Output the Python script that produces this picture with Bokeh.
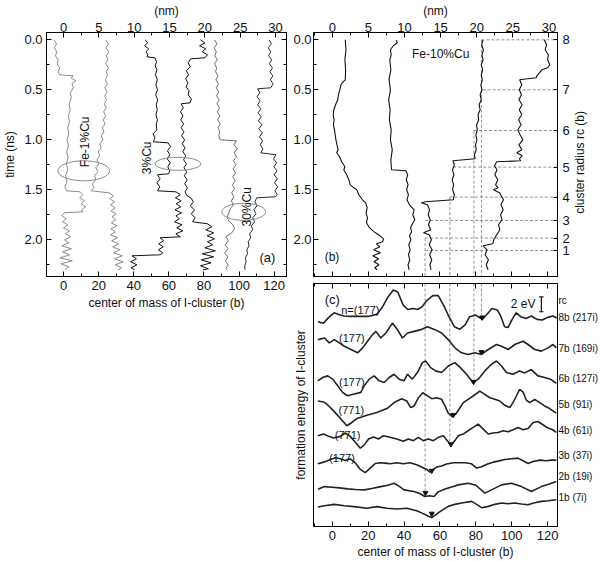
import math
from bokeh.plotting import figure
from bokeh.layouts import row, column
from bokeh.models import (Range1d, LinearAxis, SingleIntervalTicker, FixedTicker,
                          PrintfTickFormatter)
from bokeh.core.properties import value
from bokeh.embed import file_html
from bokeh.resources import INLINE

FONT = "Liberation Sans"
NM_PER_B = 0.2485  # nm per Burgers vector (top axis conversion)

# ---------------- panel (a): trajectories (time ns, position b) ----------------
t_a1 = [0.00,0.04,0.08,0.12,0.16,0.20,0.24,0.28,0.32,0.35,0.36,0.38,0.41,0.44,0.48,0.53,0.58,0.64,0.70,0.76,
        0.82,0.88,0.94,1.00,1.06,1.12,1.18,1.24,1.30,1.36,1.42,1.47,1.51,1.52,1.55,1.58,1.61,1.64,1.67,1.70,
        1.72,1.73,1.76,1.79,1.82,1.85,1.88,1.91,1.94,1.97,2.00,2.03,2.06,2.09,2.12,2.15,2.18,2.21,2.24,2.27,2.30]
b_a1 = [-5.5,-4.0,-5.2,-3.8,-4.6,-3.0,-3.6,-2.2,-3.0,-2.4,5.5,4.2,7.0,4.8,5.6,3.8,4.4,3.2,3.8,2.8,
        3.4,2.4,3.0,2.0,2.8,1.8,2.6,1.6,2.4,1.2,2.0,0.8,1.6,9.5,11.0,9.2,12.0,10.0,12.5,10.2,
        11.0,0.5,-1.0,1.5,-0.5,2.5,0.0,3.5,1.0,4.0,0.5,3.0,-1.0,4.5,-0.5,3.5,-2.0,5.0,-1.5,3.0,1.0]

t_a2 = [0.00,0.04,0.08,0.12,0.16,0.20,0.24,0.28,0.32,0.36,0.40,0.44,0.48,0.52,0.56,0.60,0.64,0.68,0.72,0.76,
        0.80,0.84,0.88,0.92,0.96,1.00,1.04,1.08,1.12,1.16,1.20,1.24,1.28,1.32,1.36,1.40,1.44,1.48,1.51,
        1.53,1.56,1.59,1.62,1.65,1.68,1.71,1.74,1.77,1.80,1.83,1.86,1.89,1.92,1.95,1.98,2.01,2.04,2.07,2.10,
        2.13,2.16,2.19,2.22,2.25,2.28,2.30]
b_a2 = [24.0,25.5,24.2,25.8,24.4,25.2,24.0,25.6,24.3,25.0,23.8,25.0,23.5,24.8,23.4,24.5,23.2,24.3,22.8,24.0,
        22.6,23.6,22.2,23.0,21.5,22.4,20.6,21.4,19.8,20.6,19.0,20.2,18.4,19.6,17.6,18.6,16.4,17.4,15.6,
        26.0,28.5,26.4,29.0,26.8,29.5,27.0,30.0,27.6,29.8,27.2,30.4,27.0,29.6,26.8,30.8,27.4,31.5,28.0,32.0,
        28.4,33.5,29.0,34.0,29.5,33.0,31.0]

t_a3 = [0.00,0.03,0.06,0.09,0.12,0.15,0.17,0.18,0.22,0.26,0.30,0.35,0.40,0.45,0.50,0.55,0.60,0.65,0.70,0.75,
        0.80,0.85,0.90,0.94,0.98,1.02,1.03,1.07,1.11,1.15,1.19,1.23,1.27,1.31,1.34,1.35,1.39,1.43,1.47,1.51,
        1.52,1.55,1.58,1.61,1.64,1.67,1.70,1.73,1.76,1.79,1.82,1.85,1.88,1.91,1.94,1.97,1.98,2.01,2.04,2.07,
        2.10,2.13,2.15,2.16,2.19,2.22,2.25,2.28,2.30]
b_a3 = [46.5,47.8,46.2,48.5,47.0,48.0,47.5,52.0,53.0,52.2,53.2,52.4,53.4,52.6,53.5,52.5,53.6,52.8,53.4,52.6,
        53.5,52.8,53.2,51.0,52.0,51.2,59.5,61.0,59.2,60.6,59.0,60.8,59.4,60.5,59.8,53.5,55.0,53.2,54.8,53.6,
        64.0,66.5,63.8,67.0,64.2,66.8,63.5,67.2,64.0,66.0,63.2,67.5,64.5,68.0,64.0,66.5,55.0,57.0,54.2,56.8,
        54.0,56.5,55.0,39.0,41.5,38.2,41.8,38.5,40.5]

t_a4 = [0.00,0.03,0.06,0.09,0.12,0.15,0.18,0.19,0.23,0.27,0.31,0.35,0.39,0.43,0.47,0.51,0.55,0.59,
        0.63,0.64,0.68,0.72,0.76,0.80,0.84,0.88,0.92,0.96,1.00,1.04,1.08,1.12,1.16,1.20,1.24,1.28,1.32,1.36,
        1.40,1.44,1.48,1.52,1.56,1.58,1.62,1.66,1.70,1.74,1.78,1.82,1.84,1.87,1.90,1.93,1.96,1.99,2.02,2.05,
        2.08,2.11,2.14,2.17,2.20,2.23,2.26,2.29,2.30]
b_a4 = [78.0,80.5,77.5,81.0,79.0,82.0,80.5,72.5,71.0,72.2,70.0,71.2,69.6,70.8,69.8,71.5,71.0,72.8,
        72.0,67.0,68.2,66.6,68.0,66.8,68.4,67.0,68.6,67.2,69.0,67.6,69.2,68.0,69.6,68.4,70.0,68.6,70.2,68.8,
        70.4,69.0,70.6,69.2,70.4,72.5,74.0,72.2,74.6,72.8,75.0,73.5,82.0,84.5,81.0,85.5,81.8,86.0,82.0,85.0,
        80.5,86.5,79.0,85.5,78.5,84.0,78.0,82.5,79.5]

t_a5 = [0.00,0.04,0.08,0.12,0.16,0.20,0.24,0.28,0.32,0.36,0.40,0.44,0.48,0.52,0.56,0.60,0.64,0.68,0.72,0.76,
        0.80,0.84,0.88,0.92,0.96,1.00,1.01,1.05,1.09,1.13,1.17,1.21,1.25,1.29,1.33,1.37,1.41,1.45,1.49,1.53,
        1.57,1.61,1.65,1.69,1.73,1.77,1.81,1.85,1.89,1.93,1.97,2.01,2.05,2.09,2.13,2.17,2.21,2.25,2.29,2.30]
b_a5 = [86.0,87.4,85.8,87.0,86.2,87.6,86.0,87.2,86.6,88.0,86.8,88.2,87.0,88.4,87.2,88.6,87.4,88.8,87.6,89.0,
        87.8,89.2,88.0,89.0,88.4,89.2,98.5,97.0,99.0,97.2,98.6,96.8,98.2,96.6,98.0,96.4,97.8,96.2,97.4,95.8,
        97.0,95.6,96.8,95.0,94.2,93.2,94.0,96.5,97.5,95.8,92.4,94.0,92.0,93.8,91.8,93.6,92.2,93.8,92.4,93.0]

t_a6 = [0.00,0.04,0.08,0.12,0.16,0.20,0.24,0.28,0.32,0.36,0.40,0.44,0.48,0.49,0.53,0.57,0.61,0.65,0.69,0.73,
        0.77,0.81,0.85,0.89,0.93,0.97,1.01,1.05,1.09,1.13,1.15,1.19,1.23,1.27,1.31,1.35,1.39,1.43,1.47,1.51,
        1.55,1.57,1.58,1.62,1.66,1.70,1.74,1.78,1.82,1.86,1.90,1.94,1.98,2.02,2.06,2.10,2.14,2.18,2.22,2.26,2.30]
b_a6 = [117.0,118.4,116.6,118.0,116.8,118.6,117.2,119.0,117.6,119.2,117.8,119.4,118.0,110.5,111.8,110.2,112.0,110.6,112.4,110.8,
        112.6,111.0,113.0,111.2,113.2,111.6,113.4,112.0,113.6,112.4,121.0,119.6,121.4,119.8,121.6,120.0,121.8,120.2,122.0,120.4,
        121.8,120.6,110.0,109.0,110.2,108.4,109.6,107.8,108.8,107.0,107.8,106.0,106.6,105.2,105.6,104.4,104.8,103.6,104.0,103.2,103.4]

traces_a = [(b_a1, t_a1, "#8c8c8c"), (b_a2, t_a2, "#8c8c8c"), (b_a3, t_a3, "#111111"),
            (b_a4, t_a4, "#111111"), (b_a5, t_a5, "#6e6e6e"), (b_a6, t_a6, "#2a2a2a")]

ell_b = [11.5, 65.2, 102.6]
ell_t = [1.31, 1.24, 1.72]
ell_w = [29.5, 26.0, 25.0]
ell_h = [0.20, 0.13, 0.17]

alloy_text = ["Fe-1%Cu", "3%Cu", "30%Cu"]
alloy_b = [12.4, 47.6, 104.6]
alloy_t = [1.02, 1.18, 1.67]

# ---------------- panel (b): Fe-10%Cu trajectories ----------------
t_b1 = [0.00,0.10,0.20,0.30,0.40,0.42,0.45,0.50,0.55,0.60,0.65,0.70,0.75,0.80,0.85,0.90,0.95,1.00,1.05,1.10,
        1.13,1.17,1.22,1.27,1.30,1.35,1.40,1.45,1.48,1.50,1.55,1.60,1.63,1.68,1.73,1.78,1.83,1.87,1.90,1.93,
        1.96,1.99,2.02,2.04,2.07,2.10,2.13,2.16,2.19,2.22,2.25,2.28,2.30]
b_b1 = [7.2,7.6,7.0,7.4,7.2,6.0,4.8,4.2,3.4,3.0,1.8,0.8,0.5,1.0,0.6,1.2,1.6,2.0,2.6,3.2,
        2.4,4.0,5.2,7.0,6.4,8.0,9.2,10.0,12.0,13.6,14.8,16.8,18.6,19.4,18.8,19.6,19.0,20.4,22.0,24.0,
        26.6,28.6,28.0,24.6,26.5,23.0,26.8,22.5,25.8,23.2,26.0,23.6,25.0]

t_b2 = [0.00,0.03,0.06,0.10,0.15,0.20,0.30,0.40,0.50,0.60,0.70,0.80,0.90,1.00,1.10,1.20,1.30,1.31,1.35,1.40,
        1.45,1.50,1.55,1.60,1.65,1.70,1.75,1.80,1.84,1.88,1.92,1.96,2.00,2.05,2.10,2.15,2.20,2.25,2.30]
b_b2 = [35.8,36.2,34.0,32.4,32.8,32.0,32.6,31.6,32.4,31.4,32.2,31.8,32.8,32.4,33.4,32.6,33.0,41.0,42.0,41.2,
        42.2,41.4,42.4,41.6,43.0,45.6,44.8,46.0,44.6,43.6,44.2,43.0,43.8,42.6,43.4,42.4,43.2,42.2,42.8]

t_b3 = [0.00,0.05,0.10,0.15,0.20,0.25,0.30,0.35,0.40,0.45,0.50,0.55,0.60,0.65,0.70,0.75,0.80,0.85,0.90,0.95,
        1.00,1.05,1.10,1.15,1.19,1.21,1.25,1.30,1.35,1.40,1.45,1.50,1.55,1.60,1.62,1.63,1.65,1.70,1.75,1.80,
        1.85,1.90,1.93,1.95,2.00,2.05,2.10,2.15,2.20,2.25,2.30]
b_b3 = [84.0,83.2,84.2,83.4,84.0,83.0,83.8,83.0,83.6,82.8,83.4,82.4,83.0,81.8,82.4,81.2,81.6,80.4,80.8,80.0,
        80.6,79.8,80.2,79.2,79.6,67.2,68.0,67.0,67.8,66.8,67.6,67.0,68.0,67.4,52.0,49.6,53.0,54.2,53.4,54.6,
        53.6,54.8,50.8,54.0,55.2,54.0,55.6,54.2,55.4,54.4,55.0]

t_b4 = [0.00,0.05,0.10,0.15,0.20,0.25,0.28,0.30,0.33,0.36,0.38,0.40,0.45,0.50,0.55,0.60,0.65,0.70,0.75,0.80,
        0.85,0.90,0.95,1.00,1.05,1.10,1.13,1.16,1.19,1.21,1.22,1.26,1.30,1.35,1.40,1.45,1.48,1.50,1.53,1.57,
        1.60,1.65,1.70,1.75,1.80,1.85,1.90,1.95,2.00,2.04,2.06,2.10,2.15,2.20,2.25,2.30]
b_b4 = [118.2,119.4,118.6,120.4,120.0,121.2,120.0,116.8,115.4,114.0,113.6,104.4,105.6,104.2,105.4,104.0,105.8,104.2,105.6,103.8,
        105.2,103.4,104.6,106.2,104.0,105.6,102.8,105.8,104.2,105.0,91.6,90.4,91.8,90.6,92.2,91.0,92.4,89.8,93.2,94.4,
        95.4,94.0,95.2,93.8,94.6,92.6,93.4,91.6,90.0,89.4,84.0,86.2,85.2,87.0,85.8,86.8]

traces_b = [(b_b1, t_b1), (b_b2, t_b2), (b_b3, t_b3), (b_b4, t_b4)]

rc_levels = [8, 7, 6, 5, 4, 3, 2, 1]
rc_times = [0.0, 0.5, 0.907, 1.273, 1.573, 1.807, 1.983, 2.107]
rc_line_start = [83.1, 83.7, 78.9, 67.4, 65.5, 51.7, 51.7, 51.7]
rc_title = "cluster radius rc (b)"
rc_title_t = 1.74   # time at which the (bottom-to-top) title starts

guide_b = [83.1, 78.9, 65.5, 51.7]
guide_t0 = [0.0, 0.907, 1.573, 1.983]
guide_e_end = [28.4, 19.8, 11.4, 4.85]

# ---------------- panel (c): formation energy profiles (eV) ----------------
b8 = [-8,-5,-2,1,4,6.5,10,15,20,25,28,31,34,36.5,39.5,42,45,47.5,50,52.5,56,59,62,65,68,71,74,76.5,80,83.5,
      86,89,92,94,96,98,100,102.5,105,108,111,114,117,120,123,125]
e8 = [0,-0.22,0.58,1.2,0.93,0.76,0.71,0.71,0.71,1.02,2.0,3.33,4.27,4.0,2.22,1.64,1.78,1.64,2.0,2.8,
      3.51,3.51,2.22,0.67,-0.67,-1.02,-0.44,0.67,0.89,0.31,0.93,1.78,1.56,0.67,-0.67,-0.76,0.22,1.2,0.67,0.44,
      0.76,0.31,0.22,0.58,0.76,0.49]
b7 = [-8.1,-4.4,-1.7,1.1,3.9,6.7,10.4,14.1,16.9,19.6,22.4,24.3,27,29.8,33.5,36.3,39.1,41.9,45.6,49.3,
      53,57.2,60.9,64.6,68.3,72,75.7,79.4,83.1,86.9,91.5,94.3,98,101.7,106.3,109.1,112.8,116.5,120.2,123,124.8]
e7 = [-0.18,0.04,-0.62,-0.18,-0.62,-1.07,-1.51,-1.96,-1.29,-0.4,0.49,0.93,0.04,0.71,2.04,1.16,0.04,0.71,0.93,1.16,
      1.56,1.16,0.71,-0.18,-1.29,-1.96,-2.18,-1.96,-2.18,-1.51,-0.84,-1.07,-1.51,-0.84,-0.4,-0.84,-1.51,-1.73,-1.29,-0.84,-1.29]
b6 = [-8.1,-5.4,-2.6,0.2,3,5.7,8.5,12.2,15.9,17.8,20.6,23.3,26.1,28.9,31.7,34.4,37.2,40,41.9,44.6,
      47.4,50.2,52,54.8,57.6,60.9,64.6,68.3,71.5,74.8,78.5,81.3,85,88.7,91.5,94.3,97,100.7,104.4,107.2,
      110.9,114.6,118.3,122,124.8]
e6 = [0.04,0.49,0.71,0.27,-0.62,-1.51,-1.96,-1.73,-1.51,-0.62,0.27,0.71,0.04,-0.18,0.49,0.93,0.27,0.04,0.93,0.27,
      1.16,2.49,2.71,1.82,1.38,1.16,2.04,2.49,1.78,0.93,-0.22,0.27,1.38,2.27,2.71,2.04,1.16,0.93,1.38,1.11,
      1.56,0.71,0.49,0.22,-0.31]
b5 = [-8.1,-4.8,-2,0.7,4.4,8.1,10.9,13.7,19.3,24.8,30.4,35,38.7,41.5,43.7,45.6,48,50.4,52.6,55.4,
      58.1,60.9,62.8,64.6,66.9,68.7,70.6,73,75.7,78.5,82.2,85,87.8,90.6,93.3,96.1,98.9,100.7,102.6,104.4,
      106.3,108.1,110,112.8,115.6,118.3,121.1,124.8]
e5 = [0,-0.13,-0.67,-1.33,-2.31,-3.33,-2.89,-2.36,-1.91,-1.56,-1.02,-0.13,0.31,0,-0.89,-0.67,0.44,1.11,0.76,0.31,
      0.44,0.22,-0.67,-1.64,-2.09,-1.78,-1.11,-0.22,0.22,0.67,1.33,0.89,0.44,0.22,0,-0.58,-0.89,-0.22,0.67,1.56,
      1.2,0.13,-0.22,0.22,-0.22,-0.67,-1.02,-1.64]
b4 = [-8.1,-4.8,-2,0.7,4.4,7.2,10,12.8,15.6,17.8,20.2,23,25.7,28.5,32.2,35.9,39.6,42.4,45.2,47.9,
      50.7,53.5,56.3,59.1,61.9,64.1,66.1,68.3,70.2,72.9,75.7,78.5,81.3,84.1,86.9,89.6,92.4,95.2,98,100.7,
      103.5,106.3,109.1,111.9,114.6,117.4,120.2,122.9,124.8]
e4 = [0,0.22,-0.09,-0.31,-0.09,0.36,-0.09,-0.89,-1.69,-1.24,-0.44,-0.18,-0.44,0,-0.22,-0.44,-0.76,-0.44,-0.67,-0.22,
      -0.67,-0.44,-0.67,-0.22,0,-0.67,-1.24,-0.67,0,0.22,0.67,1.11,1.56,0.89,0.22,0.36,0.44,0.67,0.53,0.8,
      1.11,0.8,0.98,1.78,1.91,1.47,1.02,0.8,0.44]
b3 = [-8.1,-4.8,-1.1,1.7,4.4,7.2,10,12.8,15.6,18.3,21.1,23.9,26.7,29.4,32.2,35.9,39.6,43.3,47,49.8,
      52.6,54.4,56.3,58.1,60.9,63.7,67.4,71.1,73.9,77.6,80.4,83.1,86.9,89.6,92.4,96.1,99.8,103.5,106.3,109.1,
      111.9,115.6,119.3,122,124.8]
e3 = [0,0.22,0.58,0.8,0.67,0.44,0.67,0.13,-0.76,-1.2,-0.58,0.04,0.13,0.09,0,0.13,0,0.13,-0.13,-0.44,
      -0.76,-1.11,-0.76,-0.44,-0.31,-0.04,0.13,0.13,0.13,0,-0.58,-0.4,0,0.22,0.36,0.58,0.67,0.76,0.4,0.04,
      0.31,0.49,0.4,0.49,0.49]
b2 = [-8,-4.4,0,4,8.5,13,17.8,22,27,31,34.5,37.5,40,45.5,49,51.5,54,56.7,59,62.8,
      66.5,70.2,75.7,80,85,88.7,94.3,99.8,105.4,111,116.5,121,124.8]
e2 = [0.09,0.44,0.36,0.27,0.13,0.04,0,0.18,0.44,0.62,0.89,0.44,0,-0.22,-0.53,-0.89,-0.8,-0.89,-0.27,0.13,
      0.4,0.67,0.89,0.62,-0.44,0,0.67,0.89,0.44,-0.22,0.44,0.8,1.11]
b1 = [-8,-4.4,1,6.7,12,19.3,24.8,30.4,36,41.5,47,50.7,53.5,55.4,57.5,60,64.6,68.3,72,77.6,
      80.4,83.2,87,90.6,94.3,98,101.7,105.4,109,112.8,116.5,120.2,124.8]
e1 = [0.13,0.31,0.49,0.31,0.18,-0.04,0.18,-0.04,-0.13,-0.04,-0.36,-0.76,-1.11,-1.29,-0.93,-0.49,0.22,0.49,0.67,0.89,
      0.49,0.04,0.22,0.49,0.67,0.58,0.67,0.53,0.44,0.71,0.89,0.98,1.11]

profiles = [(b8, e8), (b7, e7), (b6, e6), (b5, e5), (b4, e4), (b3, e3), (b2, e2), (b1, e1)]
offsets = [27.56, 25.33, 19.56, 16.89, 12.22, 8.44, 4.93, 2.49]
curve_labels = ["8b (217i)", "7b (169i)", "6b (127i)", "5b (91i)", "4b (61i)", "3b (37i)", "2b (19i)", "1b (7i)"]
curve_label_y = [28.1, 24.0, 19.9, 16.4, 12.9, 9.6, 6.7, 3.9]
rc_header = "rc"
rc_header_y = 30.4

marker_b = [83.5, 83.1, 78.7, 67.4, 66.1, 55.4, 51.9, 55.4]
marker_e = [28.13, 23.47, 19.47, 15.02, 11.07, 7.51, 4.53, 1.73]

dir_text = ["n=(177)", "(177)", "(177)", "(771)", "(771)", "(177)"]
dir_b = [15.6, 10.9, 10.9, 10.6, 8.5, 5.4]
dir_e = [29.1, 25.3, 19.4, 15.7, 12.3, 9.2]

scale_bar_b = 116.5
scale_bar_e0 = 28.9
scale_bar_len = 2.0   # eV

# ---------------- ranges ----------------
XA = (-9.7, 127.0)
XB = (-10.5, 125.5)
T_RANGE = (-0.073, 2.367)
E_RANGE = (0.0, 32.7)


def style_axis(ax, labels=True, size="13px", standoff=3, label_standoff=3):
    ax.axis_line_color = "black"
    ax.major_tick_line_color = "black"
    ax.minor_tick_line_color = "black"
    ax.major_tick_in = 5
    ax.major_tick_out = 0
    ax.minor_tick_in = 3
    ax.minor_tick_out = 0
    ax.major_label_text_font = FONT
    ax.major_label_text_color = "#111111"
    ax.axis_label_text_font = FONT
    ax.axis_label_text_font_style = "normal"
    ax.axis_label_text_font_size = "12px"
    ax.axis_label_text_color = "#111111"
    ax.axis_label_standoff = label_standoff
    if labels:
        ax.major_label_text_font_size = size
        ax.major_label_standoff = standoff
    else:
        # tick marks only: labels are not painted at all
        ax.major_label_text_color = None
        ax.major_label_text_font_size = "1px"
        ax.major_label_standoff = 0
    return ax


def base_fig(w, h, xr, yr, left, right, top, bottom):
    p = figure(width=w, height=h, x_range=xr, y_range=yr,
               x_axis_location=None, y_axis_location=None,
               output_backend="svg", toolbar_location=None,
               min_border_left=left, min_border_right=right,
               min_border_top=top, min_border_bottom=bottom)
    p.grid.visible = False
    p.outline_line_color = "black"
    p.outline_line_width = 1
    p.background_fill_color = "white"
    p.border_fill_color = "white"
    return p


def b_ticker():
    return SingleIntervalTicker(interval=20, num_minor_ticks=2)


def t_ticker():
    return SingleIntervalTicker(interval=0.5, num_minor_ticks=2)


def nm_ticker():
    return SingleIntervalTicker(interval=5, num_minor_ticks=2)


# ================= panel (a) =================
pa = base_fig(290, 561, Range1d(*XA), Range1d(T_RANGE[1], T_RANGE[0]), 42, 4, 32, 285)
pa.extra_x_ranges = {"nm": Range1d(XA[0] * NM_PER_B, XA[1] * NM_PER_B)}
pa.add_layout(style_axis(LinearAxis(ticker=b_ticker(), axis_label="center of mass of I-cluster (b)"),
                         standoff=4, label_standoff=3), "below")
pa.add_layout(style_axis(LinearAxis(x_range_name="nm", ticker=nm_ticker(), axis_label="(nm)"),
                         standoff=1, label_standoff=2), "above")
pa.add_layout(style_axis(LinearAxis(ticker=t_ticker(), formatter=PrintfTickFormatter(format="%.1f"),
                                    axis_label="time (ns)"), standoff=4, label_standoff=4), "left")
pa.add_layout(style_axis(LinearAxis(ticker=t_ticker()), labels=False), "right")

for bx, tt, col in traces_a:
    pa.line(bx, tt, line_color=col, line_width=1.0)
pa.ellipse(x=ell_b, y=ell_t, width=ell_w, height=ell_h, fill_color=None,
           line_color="#8c8c8c", line_width=1)
pa.text(x=alloy_b, y=alloy_t, text=alloy_text, angle=math.pi / 2,
        text_font=value(FONT), text_font_size="12px", text_color="#111111",
        text_align="center", text_baseline="middle")
pa.text(x=[116.1], y=[2.18], text=["(a)"], text_font=value(FONT), text_font_size="13px",
        text_color="#111111", text_align="center", text_baseline="middle")

# ================= panel (b) =================
pb = base_fig(310, 280, Range1d(*XB), Range1d(T_RANGE[1], T_RANGE[0]), 23, 40, 32, 4)
pb.extra_x_ranges = {"nm": Range1d(XB[0] * NM_PER_B, XB[1] * NM_PER_B)}
pb.add_layout(style_axis(LinearAxis(x_range_name="nm", ticker=nm_ticker(), axis_label="(nm)"),
                         standoff=1, label_standoff=2), "above")
pb.add_layout(style_axis(LinearAxis(ticker=b_ticker()), labels=False), "below")
pb.add_layout(style_axis(LinearAxis(ticker=t_ticker(), formatter=PrintfTickFormatter(format="%.1f")),
                         standoff=2), "left")
rax = LinearAxis(ticker=FixedTicker(ticks=rc_times),
                 major_label_overrides={t: str(n) for t, n in zip(rc_times, rc_levels)})
style_axis(rax, standoff=5)
rax.major_tick_in = 4
pb.add_layout(rax, "right")
# title of the r_c axis: a tick-less axis whose single label reads bottom-to-top
tax = LinearAxis(ticker=FixedTicker(ticks=[rc_title_t]),
                 major_label_overrides={rc_title_t: rc_title})
style_axis(tax, size="12px", standoff=8)
tax.major_tick_in = 0
tax.axis_line_color = None
tax.major_label_orientation = math.pi / 2
pb.add_layout(tax, "right")

pb.segment(x0=rc_line_start, y0=rc_times, x1=[XB[1]] * len(rc_times), y1=rc_times,
           line_color="#777777", line_width=0.8, line_dash="3 2")
pb.segment(x0=guide_b, y0=guide_t0, x1=guide_b, y1=[T_RANGE[1]] * len(guide_b),
           line_color="#777777", line_width=0.8, line_dash="3 2")
for bx, tt in traces_b:
    pb.line(bx, tt, line_color="#111111", line_width=1.1)
pb.text(x=[60.4, -0.2], y=[0.14, 2.17], text=["Fe-10%Cu", "(b)"], text_font=value(FONT),
        text_font_size="12px", text_color="#111111", text_align="center", text_baseline="middle")

# ================= panel (c) =================
pc = base_fig(310, 281, Range1d(*XB), Range1d(*E_RANGE), 23, 40, 3, 33)
pc.add_layout(style_axis(LinearAxis(ticker=b_ticker(), axis_label="center of mass of I-cluster (b)"),
                         standoff=4, label_standoff=2), "below")
pc.add_layout(style_axis(LinearAxis(ticker=b_ticker()), labels=False), "above")
lax = LinearAxis(ticker=FixedTicker(ticks=[]), axis_label="formation energy of I-cluster")
style_axis(lax, labels=False, label_standoff=6)
pc.add_layout(lax, "left")
# curve names on the right, as labels of a tick-less right axis
cax = LinearAxis(ticker=FixedTicker(ticks=curve_label_y + [rc_header_y]),
                 major_label_overrides={**{y: s for y, s in zip(curve_label_y, curve_labels)},
                                        rc_header_y: rc_header})
style_axis(cax, size="10px", standoff=1)
cax.major_tick_in = 0
cax.axis_line_color = None
pc.add_layout(cax, "right")

pc.segment(x0=guide_b, y0=[E_RANGE[1]] * len(guide_b), x1=guide_b, y1=guide_e_end,
           line_color="#777777", line_width=0.8, line_dash="3 2")
for (bx, ee), off in zip(profiles, offsets):
    pc.line(bx, [e + off for e in ee], line_color="#222222", line_width=1.6)
pc.scatter(marker_b, marker_e, marker="inverted_triangle", size=5, color="#111111")
pc.text(x=dir_b, y=dir_e, text=dir_text, text_font=value(FONT), text_font_size="11px",
        text_color="#111111", text_align="center", text_baseline="middle")
pc.text(x=[0.0], y=[30.5], text=["(c)"], text_font=value(FONT), text_font_size="13px",
        text_color="#111111", text_align="center", text_baseline="middle")
pc.text(x=[106.3], y=[30.0], text=["2 eV"], text_font=value(FONT), text_font_size="12px",
        text_color="#111111", text_align="center", text_baseline="middle")
sb_y1 = scale_bar_e0 + scale_bar_len
pc.segment(x0=[scale_bar_b, scale_bar_b - 1.2, scale_bar_b - 1.2],
           y0=[scale_bar_e0, scale_bar_e0, sb_y1],
           x1=[scale_bar_b, scale_bar_b + 1.2, scale_bar_b + 1.2],
           y1=[sb_y1, scale_bar_e0, sb_y1], line_color="#111111", line_width=1.2)

layout = row(pa, column(pb, pc))
open("out.html", "w").write(file_html(layout, INLINE, title="I-cluster trajectories"))
